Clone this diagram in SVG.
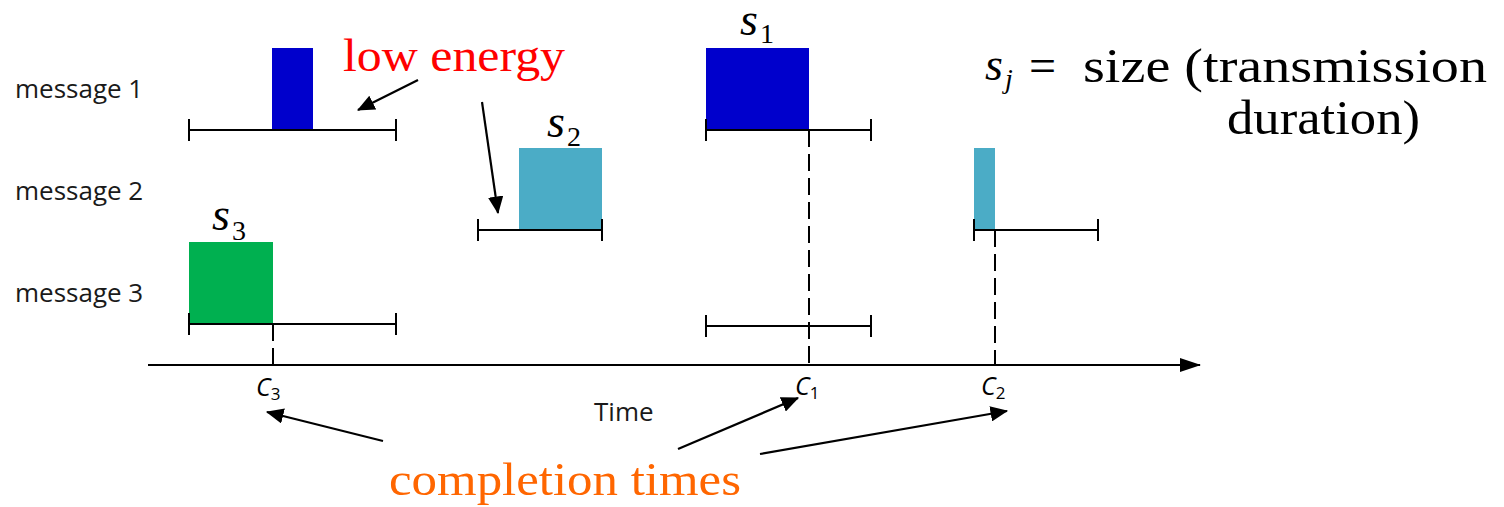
<svg xmlns="http://www.w3.org/2000/svg" width="1504" height="507" viewBox="0 0 1504 507">
  <style>
    .lbl { font-family: "Open Sans", "Liberation Sans", sans-serif; font-size: 26px; fill: #1a1a1a; }
    .ser { font-family: "Liberation Serif", "DejaVu Serif", serif; }
    .mi { font-family: "Liberation Serif", "DejaVu Serif", serif; font-style: italic; font-size: 46px; fill: #000; }
    .sub { font-style: normal; font-size: 28px; }
    .subi { font-style: italic; font-size: 28px; }
    .cl { font-family: "Open Sans", "Liberation Sans", sans-serif; font-style: italic; font-size: 25px; fill: #000; }
    .cs { font-style: normal; font-size: 17px; }
    .iv { stroke: #000; stroke-width: 2; fill: none; }
    .dash { stroke: #000; stroke-width: 2; stroke-dasharray: 17 7; fill: none; }
    .arr { stroke: #000; stroke-width: 2.2; fill: none; marker-end: url(#ah); }
  </style>
  <defs>
    <marker id="ah" markerWidth="8" markerHeight="7" refX="7.5" refY="3.5" orient="auto" markerUnits="strokeWidth">
      <path d="M0,0 L8,3.5 L0,7 z" fill="#000"/>
    </marker>
    <marker id="axh" markerWidth="21" markerHeight="14" refX="20" refY="7" orient="auto" markerUnits="userSpaceOnUse">
      <path d="M0,0 L21,7 L0,14 z" fill="#000"/>
    </marker>
  </defs>
  <rect width="1504" height="507" fill="#fff"/>

  <!-- row labels -->
  <g id="row-labels">
    <text class="lbl" x="15" y="98">message 1</text>
    <text class="lbl" x="15" y="200">message 2</text>
    <text class="lbl" x="15" y="302">message 3</text>
  </g>

  <!-- time axis -->
  <g id="axis">
    <line x1="148" y1="365" x2="1200" y2="365" stroke="#000" stroke-width="2" marker-end="url(#axh)"/>
    <text class="lbl" x="594" y="421">Time</text>
    <text class="cl" x="256" y="396">C<tspan class="cs" dy="4">3</tspan></text>
    <text class="cl" x="795" y="395">C<tspan class="cs" dy="4">1</tspan></text>
    <text class="cl" x="981" y="395">C<tspan class="cs" dy="4">2</tspan></text>
  </g>

  <!-- message 1, first schedule -->
  <g id="m1-a">
    <rect x="272" y="48" width="41" height="82" fill="#0000CC"/>
    <path class="iv" d="M189,130 H396 M189,119 V141 M396,119 V141"/>
  </g>
  <!-- message 3, first schedule -->
  <g id="m3-a">
    <rect x="189" y="242" width="84" height="82" fill="#00B050"/>
    <path class="iv" d="M189,324 H396 M189,313 V335 M396,313 V335"/>
    <text class="mi" x="212" y="230">s<tspan class="sub" dx="2" dy="10">3</tspan></text>
  </g>
  <!-- message 2, first schedule -->
  <g id="m2-a">
    <rect x="519" y="148" width="83" height="82" fill="#4BACC6"/>
    <path class="iv" d="M478,230 H602 M478,219 V241 M602,219 V241"/>
    <text class="mi" x="547" y="137">s<tspan class="sub" dx="2" dy="9">2</tspan></text>
  </g>
  <!-- message 1, second schedule -->
  <g id="m1-b">
    <rect x="706" y="48" width="103" height="82" fill="#0000CC"/>
    <path class="iv" d="M706,130 H871 M706,119 V141 M871,119 V141"/>
    <text class="mi" x="740" y="35">s<tspan class="sub" dx="2" dy="8">1</tspan></text>
  </g>
  <!-- message 3, second schedule -->
  <g id="m3-b">
    <path class="iv" d="M706,326 H871 M706,315 V337 M871,315 V337"/>
  </g>
  <!-- message 2, second schedule -->
  <g id="m2-b">
    <rect x="974" y="148" width="21" height="82" fill="#4BACC6"/>
    <path class="iv" d="M974,230 H1098 M974,219 V241 M1098,219 V241"/>
  </g>

  <!-- legend -->
  <g id="legend">
    <text class="mi" x="985" y="80">s<tspan class="subi" dx="2" dy="8">j</tspan></text>
    <text class="ser" x="1029" y="82" font-size="48" fill="#000">=</text>
    <text class="ser" x="1083" y="82" font-size="48" fill="#000" textLength="404" lengthAdjust="spacingAndGlyphs">size (transmission</text>
    <text class="ser" x="1227" y="134" font-size="48" fill="#000" textLength="193" lengthAdjust="spacingAndGlyphs">duration)</text>
  </g>

  <!-- annotations -->
  <g id="low-energy">
    <text class="ser" x="343" y="71" font-size="46" fill="#FF0000" textLength="222" lengthAdjust="spacingAndGlyphs">low energy</text>
  </g>
  <g id="completion-times">
    <text class="ser" x="389" y="495" font-size="46" fill="#FF6600" textLength="352" lengthAdjust="spacingAndGlyphs">completion times</text>
  </g>

  <!-- connectors -->
  <g id="connectors">
    <line class="dash" x1="273" y1="324" x2="273" y2="365"/>
    <line class="dash" x1="809" y1="130" x2="809" y2="365"/>
    <line class="dash" x1="995" y1="230" x2="995" y2="365"/>
    <line class="arr" x1="418" y1="80" x2="358" y2="110"/>
    <line class="arr" x1="482" y1="102" x2="498" y2="213"/>
    <line class="arr" x1="383" y1="441" x2="267" y2="412"/>
    <line class="arr" x1="678" y1="449" x2="798" y2="398"/>
    <line class="arr" x1="760" y1="454" x2="1007" y2="411"/>
  </g>
</svg>
